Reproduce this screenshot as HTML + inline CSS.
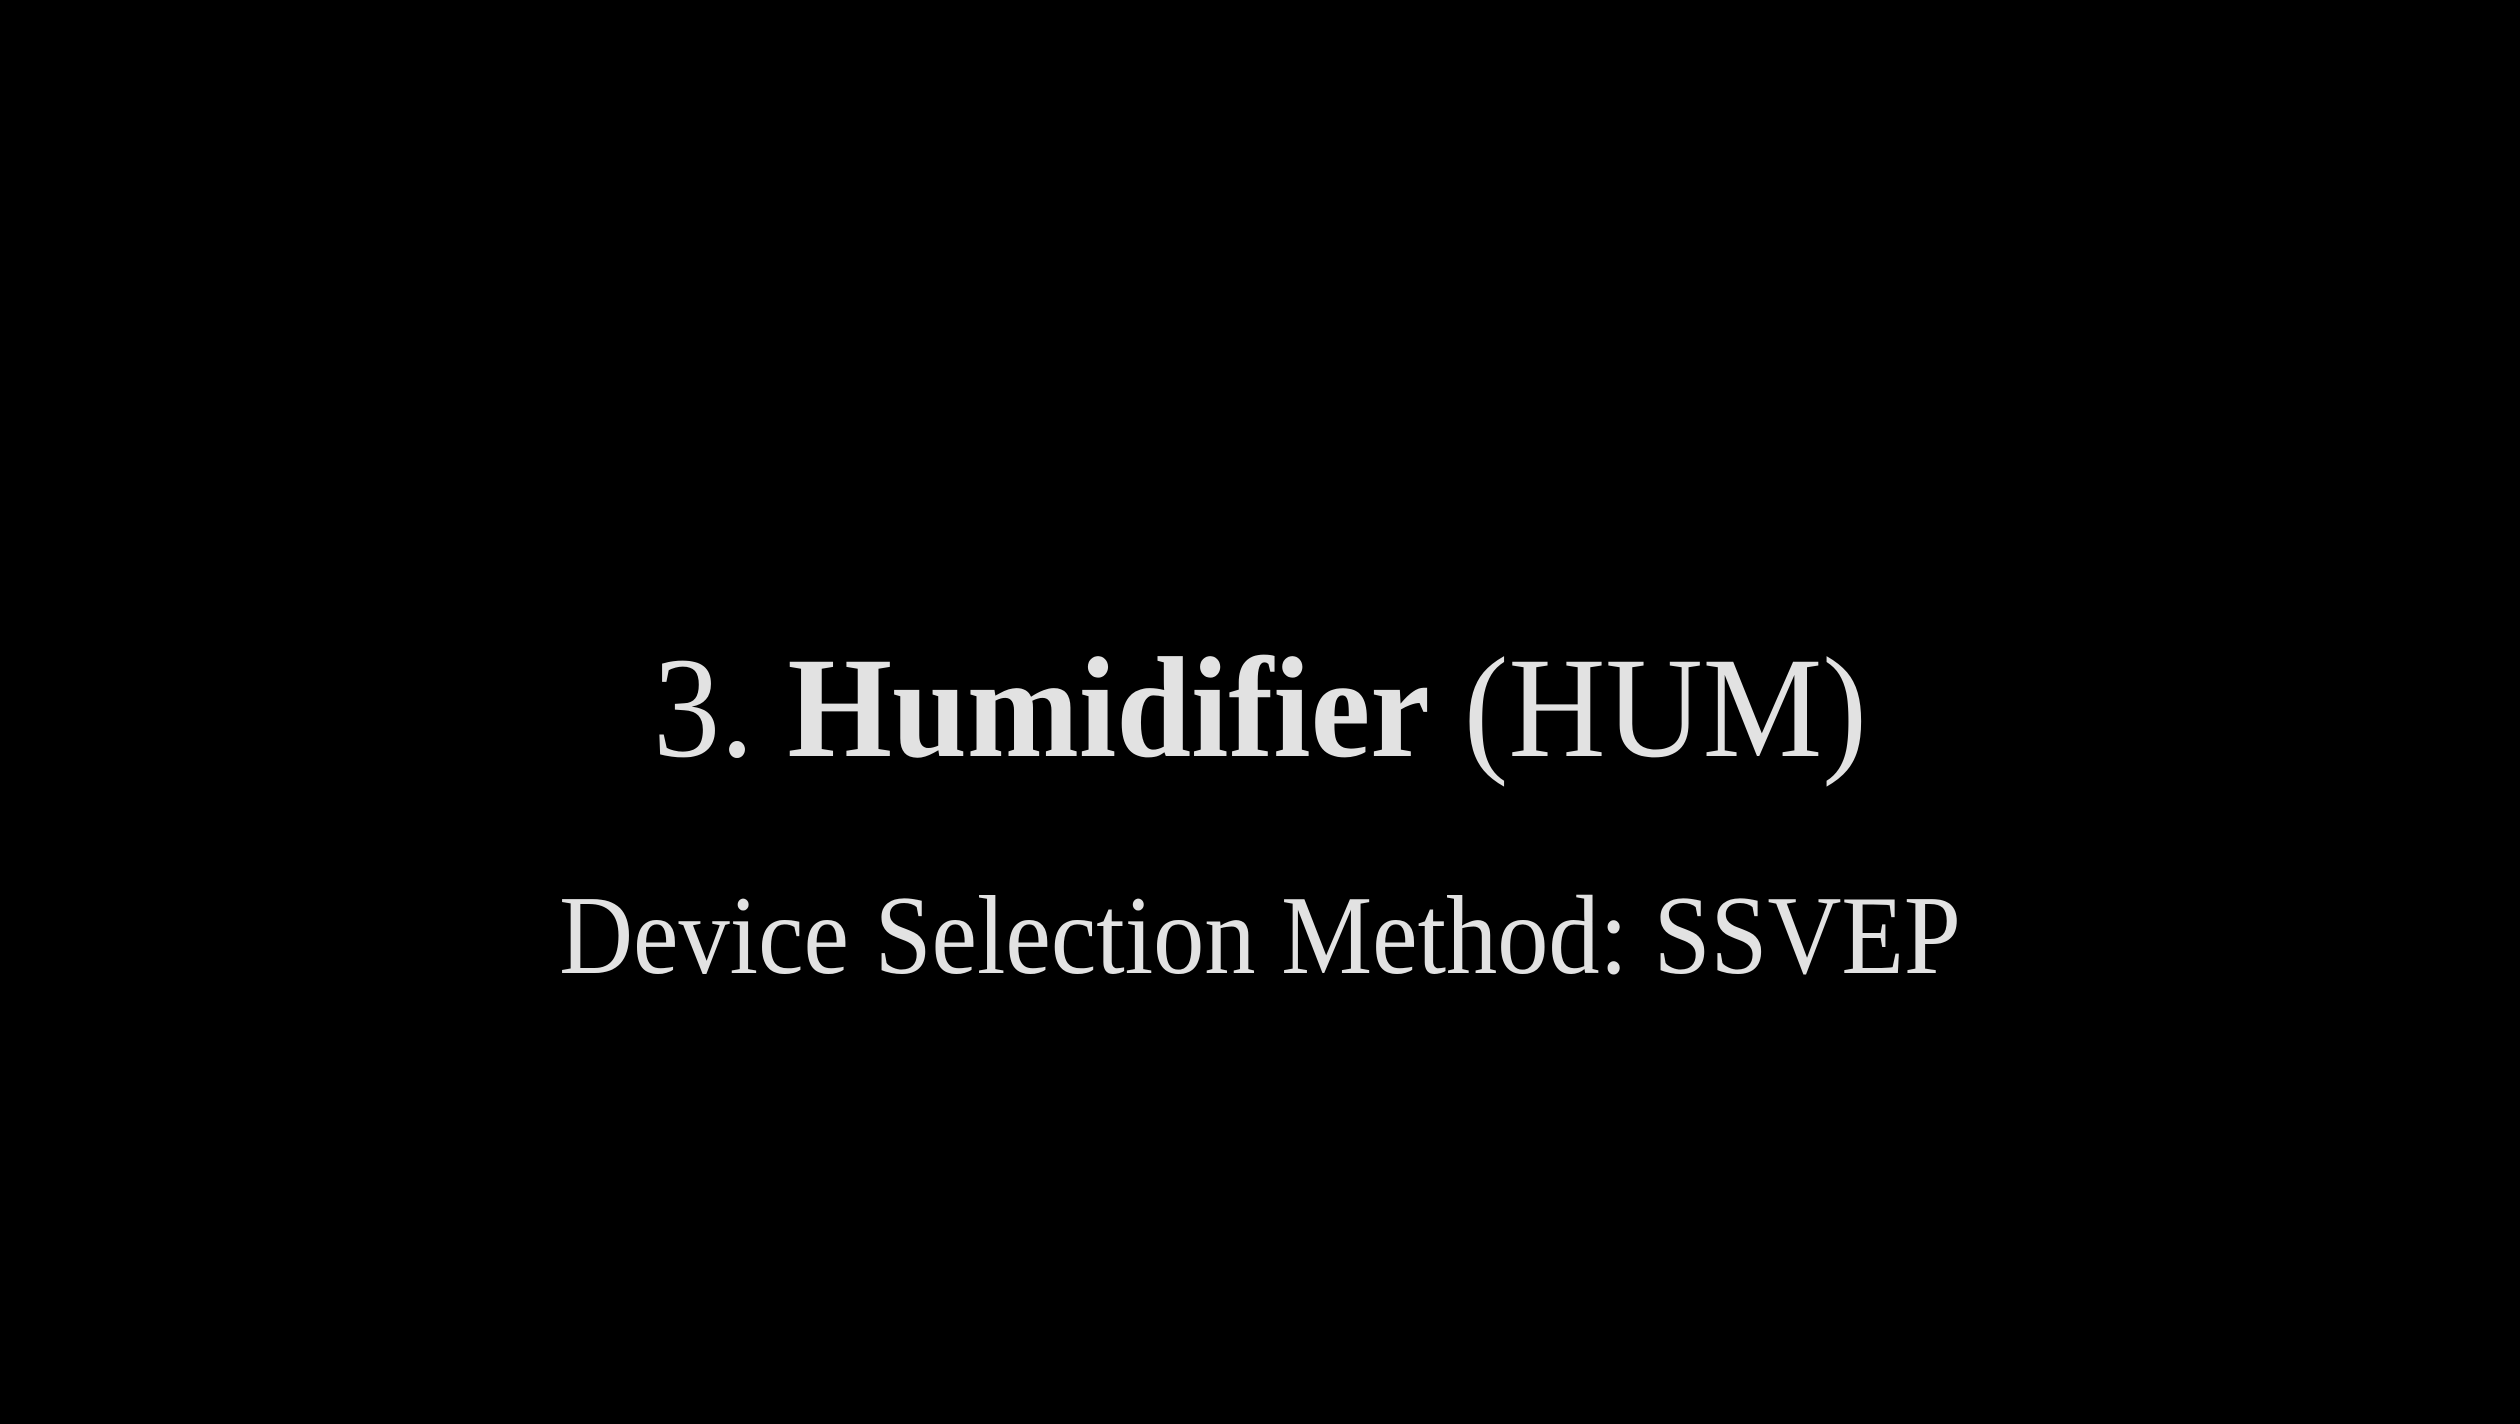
<!DOCTYPE html>
<html>
<head>
<meta charset="utf-8">
<style>
  html, body { margin:0; padding:0; background:#000; }
  body { width:2520px; height:1424px; position:relative; overflow:hidden; }
  .t { position:absolute; left:0; width:2520px; text-align:center; color:#e2e2e2;
       font-family:"Liberation Serif", serif; white-space:nowrap; line-height:1;
       transform-origin:1260px 50%; }
  #l1 { top:637px; font-size:144px; transform:scaleX(0.934); }
  #l2 { top:880px; font-size:112px; transform:scaleX(0.914); }
  b { font-weight:bold; }
</style>
</head>
<body>
  <div class="t" id="l1">3. <b>Humidifier</b> (HUM)</div>
  <div class="t" id="l2">Device Selection Method: SSVEP</div>
</body>
</html>
